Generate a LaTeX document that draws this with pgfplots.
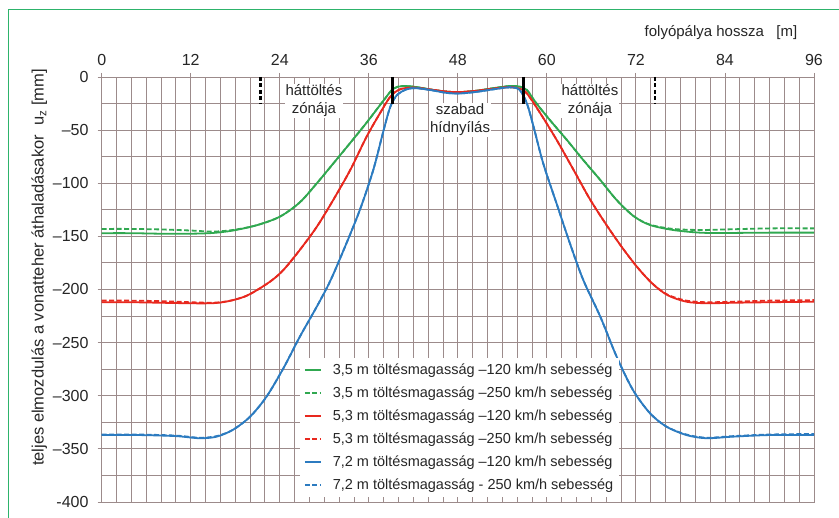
\documentclass[border=0pt]{standalone}
\usepackage{fontspec}
\setmainfont{Liberation Sans}
\usepackage{pgfplots}
\pgfplotsset{compat=1.18}
\definecolor{Frame}{HTML}{2DB36B}
\definecolor{Grid}{HTML}{9C8B8B}
\definecolor{LGreen}{HTML}{30A850}
\definecolor{LRed}{HTML}{E8281E}
\definecolor{LBlue}{HTML}{2C7BC0}

\begin{document}
\fontsize{15}{18}\selectfont
\begin{tikzpicture}[x=1pt,y=1pt]
\useasboundingbox (0,0) rectangle (839,518);
\fill[white] (0,0) rectangle (839,518);
\draw[Frame,line width=1.5pt] (8.3,-5) -- (8.3,508.5) -- (845,508.5);
% axis titles
\node[rotate=90,font=\fontsize{16.5}{20}\selectfont,text=black!85] at (39.3,250.5) {teljes elmozdulás a vonatteher áthaladásakor\ \ u\textsubscript{z} [mm]};
\node[text=black!85] at (721,485) {folyópálya hossza\ \ \ [m]};
\begin{axis}[
  at={(101.7pt,16pt)}, anchor=south west,
  scale only axis, width=712.3pt, height=425pt,
  xmin=0, xmax=96, ymin=-400, ymax=0,
  xtick={0,12,24,36,48,60,72,84,96},
  xticklabels={0,12,24,36,48,60,72,84,96},
  minor x tick num=5,
  ytick={-400,-350,-300,-250,-200,-150,-100,-50,0},
  yticklabels={-400,–350,–300,–250,–200,–150,–100,–50,0},
  minor y tick num=1,
  xtick pos=right, xticklabel pos=right,
  ytick pos=left,
  tick align=outside, major tick length=4pt, minor tick length=0pt,
  tick style={Grid,line width=0.9pt},
  grid=both,
  major grid style={Grid,line width=0.9pt},
  minor grid style={Grid,line width=0.9pt},
  axis line style={Grid,line width=0.9pt},
  ticklabel style={font=\fontsize{16}{18}\selectfont,text=black!85},
  xticklabel style={yshift=2pt},
  yticklabel style={xshift=-4pt},
  clip=false,
  legend cell align=left,
  legend image code/.code={\draw[#1] (0pt,0pt) -- (16pt,0pt);
    \path[draw=none,fill=none] (16pt,0pt) -- (26pt,0pt);},
  legend style={at={(0.278,0.3395)}, anchor=north west, draw=none, fill=white,
    font=\fontsize{14.5}{17}\selectfont, row sep=6pt, inner sep=4pt, text=black!85},
]
\addplot[LGreen, line width=1.8pt, smooth] coordinates {
(0,-147) (4,-147) (8,-147.5) (12,-147.5) (15,-146.8) (17.7,-144.5) (20.9,-139.5)
(24,-131.5) (26.7,-118) (29,-100) (31.2,-81.5) (33.5,-62) (35.7,-43) (38,-22)
(39.3,-11) (40.6,-8.5) (42.4,-9.5) (44.5,-12) (46.5,-13.8) (48.3,-14.2) (50.5,-13)
(52.8,-10.5) (55,-8.5) (56.3,-9) (57.3,-12.2) (58.5,-24) (60.4,-40.5) (62.7,-59.3)
(64.9,-78.1) (67.2,-97) (69.4,-115.8) (71.7,-131) (73.9,-139.3) (77,-144)
(80.6,-146.5) (84,-146.8) (90,-146.5) (96,-146.5)};
\addlegendentry{3,5 m töltésmagasság –120 km/h sebesség}
\addplot[LGreen, line width=1.8pt, dash pattern=on 5pt off 2.5pt, smooth] coordinates {
(0,-143) (4,-143) (8,-143.5) (12,-144.5) (15,-145.5) (17.7,-144) (20.9,-139.5)
(24,-131.5) (26.7,-118) (29,-100) (31.2,-81.5) (33.5,-62) (35.7,-43) (38,-22)
(39.3,-11) (40.6,-8.5) (42.4,-9.5) (44.5,-12) (46.5,-13.8) (48.3,-14.2) (50.5,-13)
(52.8,-10.5) (55,-8.5) (56.3,-9) (57.3,-12.2) (58.5,-24) (60.4,-40.5) (62.7,-59.3)
(64.9,-78.1) (67.2,-97) (69.4,-115.8) (71.7,-131) (73.9,-139) (77,-143)
(80.6,-144) (84,-143.5) (90,-142.5) (96,-142.5)};
\addlegendentry{3,5 m töltésmagasság –250 km/h sebesség}
\addplot[LRed, line width=1.8pt, smooth] coordinates {
(0,-212) (4,-212) (8,-212.5) (12,-213) (14.5,-213) (16,-212.3) (17.7,-210) (19.5,-206)
(21.3,-199) (23,-191) (24.5,-181.6) (26.7,-162.8) (29,-140.9) (31.2,-115.8) (33.5,-87.5)
(35.7,-56.2) (37.5,-34.2) (38.9,-18.5) (40.2,-11.6) (42,-10) (44.5,-12) (46.5,-13.8)
(48.3,-14.2) (50.5,-13) (52.8,-11) (55,-9.5) (56.3,-11) (57.3,-15.4) (59.1,-34)
(61.3,-59) (63.6,-87.5) (65.8,-115) (68.1,-140) (70.3,-162) (72.3,-180) (74.3,-195)
(76.3,-205.5) (78.8,-211.5) (81.5,-213) (85,-212.5) (90,-212) (96,-211.5)};
\addlegendentry{5,3 m töltésmagasság –120 km/h sebesség}
\addplot[LRed, line width=1.8pt, dash pattern=on 5pt off 2.5pt, smooth] coordinates {
(0,-210.5) (4,-210.5) (8,-211) (12,-212) (14.5,-212.5) (16,-212) (17.7,-210) (19.5,-206)
(21.3,-199) (23,-191) (24.5,-181.6) (26.7,-162.8) (29,-140.9) (31.2,-115.8) (33.5,-87.5)
(35.7,-56.2) (37.5,-34.2) (38.9,-18.5) (40.2,-11.6) (42,-10) (44.5,-12) (46.5,-13.8)
(48.3,-14.2) (50.5,-13) (52.8,-11) (55,-9.5) (56.3,-11) (57.3,-15.4) (59.1,-34)
(61.3,-59) (63.6,-87.5) (65.8,-115) (68.1,-140) (70.3,-162) (72.3,-180) (74.3,-195)
(76.3,-205) (78.8,-210.5) (81.5,-212) (85,-211.5) (90,-210.5) (96,-210)};
\addlegendentry{5,3 m töltésmagasság –250 km/h sebesség}
\addplot[LBlue, line width=1.8pt, smooth] coordinates {
(0,-337) (5,-337) (10,-338) (13.2,-340) (15.5,-338.5) (17.7,-332) (20,-319.7) (22.2,-301)
(24.5,-274) (26.7,-244.5) (29,-216) (30.8,-192) (32.6,-163) (34.8,-125) (36.6,-87.5)
(38,-50) (38.9,-28) (39.8,-17) (41.1,-11.6) (42.4,-10.5) (44.5,-12.5) (46.5,-15)
(48.3,-15.5) (50.5,-14) (52.8,-11.6) (55,-9.7) (56.3,-12) (57.3,-24.8) (58.2,-46.7)
(59.5,-81.2) (61.3,-119) (63.1,-156.5) (64.9,-191) (67.2,-225.6) (69.4,-263.2)
(71.6,-294.6) (73.9,-316.5) (76.1,-329) (78.8,-337) (81.5,-340) (85.1,-338.5) (90,-337) (96,-337)};
\addlegendentry{7,2 m töltésmagasság –120 km/h sebesség}
\addplot[LBlue, line width=1.8pt, dash pattern=on 5pt off 2.5pt, smooth] coordinates {
(0,-336.5) (5,-336.5) (10,-337.5) (13.2,-339.5) (15.5,-338) (17.7,-332) (20,-319.7) (22.2,-301)
(24.5,-274) (26.7,-244.5) (29,-216) (30.8,-192) (32.6,-163) (34.8,-125) (36.6,-87.5)
(38,-50) (38.9,-28) (39.8,-17) (41.1,-11.6) (42.4,-10.5) (44.5,-12.5) (46.5,-15)
(48.3,-15.5) (50.5,-14) (52.8,-11.6) (55,-9.7) (56.3,-12) (57.3,-24.8) (58.2,-46.7)
(59.5,-81.2) (61.3,-119) (63.1,-156.5) (64.9,-191) (67.2,-225.6) (69.4,-263.2)
(71.6,-294.6) (73.9,-316.5) (76.1,-329) (78.8,-336.5) (81.5,-339.5) (85.1,-338) (90,-336.5) (96,-336)};
\addlegendentry{7,2 m töltésmagasság - 250 km/h sebesség}
% bridge ends and backfill zone limits
\addplot[black, line width=3pt, forget plot] coordinates {(39.2,0) (39.2,-25)};
\addplot[black, line width=3pt, forget plot] coordinates {(56.8,0) (56.8,-25)};
\addplot[black, line width=2.2pt, dash pattern=on 4pt off 2.5pt, forget plot] coordinates {(21.4,0) (21.4,-25)};
\addplot[black, line width=2.2pt, dash pattern=on 4pt off 2.5pt, forget plot] coordinates {(74.6,0) (74.6,-25)};
\node[fill=white, inner sep=1pt, align=center, text=black!85] at (axis cs:28.6,-22.5) {háttöltés\\zónája};
\node[fill=white, inner sep=1pt, align=center, text=black!85] at (axis cs:65.8,-22.5) {háttöltés\\zónája};
\node[fill=white, inner sep=1pt, align=center, text=black!85] at (axis cs:48.3,-40.5) {szabad\\hídnyílás};
\end{axis}
\end{tikzpicture}
\end{document}
